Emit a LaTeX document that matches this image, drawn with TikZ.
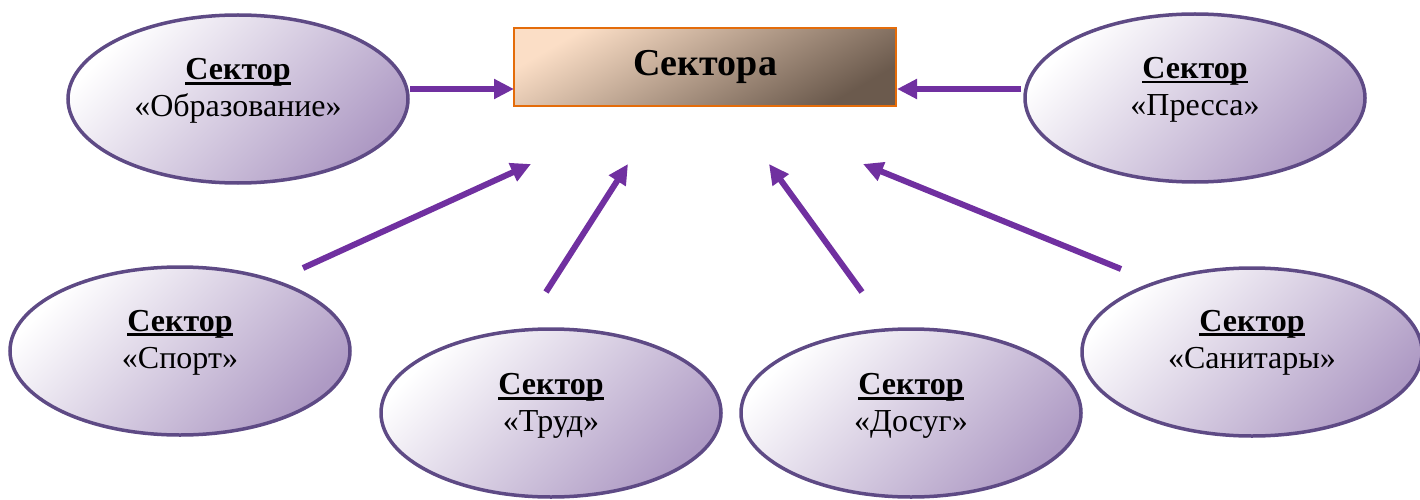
\documentclass[tikz,border=0pt]{standalone}
\usepackage{fontspec}
\setmainfont{Liberation Serif}
\usetikzlibrary{shapes.geometric,arrows.meta}
\definecolor{arrowpurple}{HTML}{7030A0}
\definecolor{ellborder}{HTML}{5E4A85}
\definecolor{ellfill}{HTML}{AE9AC4}
\definecolor{boxborder}{HTML}{E46C0A}
\definecolor{boxlight}{HTML}{FBDEC6}
\definecolor{boxdark}{HTML}{6B5A4D}
\newcommand\sectul[1]{\setbox0\hbox{\bfseries #1}\rlap{\copy0}\rule[-5pt]{\wd0}{2.6pt}}
\newcommand\topstrut{\rule{0pt}{24pt}}
\newcommand\botstrut{\rule[-8pt]{0pt}{8pt}}
\begin{document}
\begin{tikzpicture}[x=1pt,y=-1pt,
  sector/.style={ellipse, draw=ellborder, line width=3.5pt, minimum width=340pt, minimum height=168pt, inner sep=0pt, top color=white, bottom color=ellfill, shading angle=45},
  sectortext/.style={align=center, inner sep=0pt, font=\fontsize{32}{37}\selectfont},
  hub/.style={rectangle, draw=boxborder, line width=2.5pt, minimum width=382pt, minimum height=78pt, inner sep=0pt, top color=boxlight, bottom color=boxdark, shading angle=30, font=\fontsize{38}{44}\selectfont\bfseries},
  link/.style={draw=arrowpurple, line width=6pt, -{Triangle[length=20pt,width=19pt]}},
 ]
\useasboundingbox (0,0) rectangle (1420,500);

\node[hub] (hub) at (705,67) {\raisebox{2pt}{Сектора}};

\node[sector] (obr) at (238,99) {};
\node[sector] (press) at (1195,98) {};
\node[sector] (sport) at (180,351) {};
\node[sector] (trud) at (551,413) {};
\node[sector] (dosug) at (911,413) {};
\node[sector] (sanit) at (1252,352) {};

\node[sectortext] (obrt) at (238,90.5) {\topstrut\sectul{Сектор}\\«Образование»\botstrut};
\node[sectortext] (presst) at (1195,89) {\topstrut\sectul{Сектор}\\«Пресса»\botstrut};
\node[sectortext] (sportt) at (180,341.5) {\topstrut\sectul{Сектор}\\«Спорт»\botstrut};
\node[sectortext] (trudt) at (551,405) {\topstrut\sectul{Сектор}\\«Труд»\botstrut};
\node[sectortext] (dosugt) at (911,405) {\topstrut\sectul{Сектор}\\«Досуг»\botstrut};
\node[sectortext] (sanitt) at (1252,341.5) {\topstrut\sectul{Сектор}\\«Санитары»\botstrut};

\coordinate (obrS) at (410,89);
\coordinate (obrE) at (514,89);
\coordinate (pressS) at (1021,89);
\coordinate (pressE) at (897,89);
\coordinate (sportS) at (303,268);
\coordinate (sportE) at (531,164);
\coordinate (trudS) at (546,292);
\coordinate (trudE) at (628,164);
\coordinate (dosugS) at (862,292);
\coordinate (dosugE) at (769,164);
\coordinate (sanitS) at (1121,269);
\coordinate (sanitE) at (863,164);

\draw[link] (obrS) -- (obrE);
\draw[link] (pressS) -- (pressE);
\draw[link] (sportS) -- (sportE);
\draw[link] (trudS) -- (trudE);
\draw[link] (dosugS) -- (dosugE);
\draw[link] (sanitS) -- (sanitE);
\end{tikzpicture}
\end{document}
